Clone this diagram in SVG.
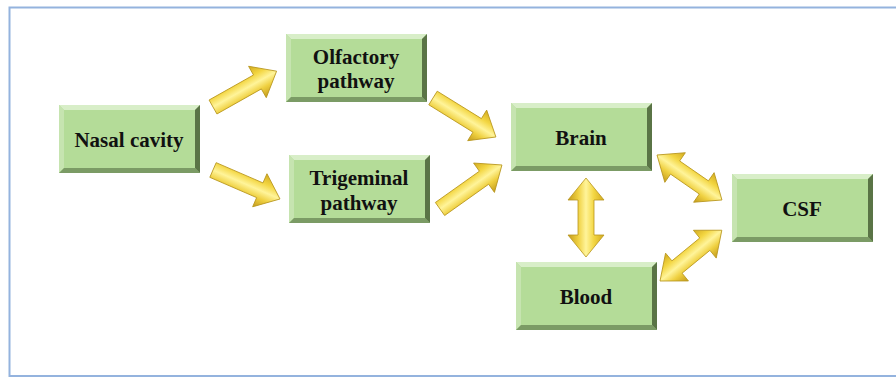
<svg xmlns="http://www.w3.org/2000/svg" xmlns:xlink="http://www.w3.org/1999/xlink" width="896" height="377" viewBox="0 0 896 377">
<style>
.lbl{font-family:"Liberation Serif","Times New Roman",serif;font-weight:bold;font-size:21px;fill:#111;text-anchor:middle}
.face{fill:#b4dc98}
.bt{fill:#d8eec8}
.bl{fill:#c6e4b0}
.bb{fill:#7b9b65}
.br{fill:#5a7446}
.arr{fill:url(#yg);stroke:#b8961e;stroke-width:0.8;stroke-linejoin:miter}
</style>
<defs>
<linearGradient id="yg" x1="0" y1="0" x2="0" y2="1">
<stop offset="0" stop-color="#d2aa1e"/>
<stop offset="0.28" stop-color="#f3d642"/>
<stop offset="0.5" stop-color="#fff49a"/>
<stop offset="0.72" stop-color="#efd040"/>
<stop offset="1" stop-color="#c39a1c"/>
</linearGradient>
<g id="bx">
<rect class="face" x="0" y="0" width="141" height="68"/>
<polygon class="bt" points="0,0 141,0 136,5 5,5"/>
<polygon class="bl" points="0,0 5,5 5,63 0,68"/>
<polygon class="bb" points="0,68 5,63 136,63 141,68"/>
<polygon class="br" points="141,0 141,68 136,63 136,5"/>
</g>
</defs>
<rect x="9.5" y="7.5" width="900" height="368.5" fill="#ffffff" stroke="#94b3de" stroke-width="2"/>
<g id="connectors">
<polygon class="arr" transform="translate(213,107) rotate(-29.4)" points="0,-8 51,-8 51,-18 73,0 51,18 51,8 0,8"/>
<polygon class="arr" transform="translate(213,170) rotate(23.4)" points="0,-8 51,-8 51,-18 73,0 51,18 51,8 0,8"/>
<polygon class="arr" transform="translate(433,98) rotate(31.8)" points="0,-8 52,-8 52,-18 74,0 52,18 52,8 0,8"/>
<polygon class="arr" transform="translate(440,209) rotate(-35.4)" points="0,-8 54,-8 54,-18 76,0 54,18 54,8 0,8"/>
<polygon class="arr" transform="translate(657,155) rotate(34.7)" points="0,0 22,-18 22,-8 57,-8 57,-18 79,0 57,18 57,8 22,8 22,18"/>
<polygon class="arr" transform="translate(586,178) rotate(90)" points="0,0 22,-18 22,-8 57,-8 57,-18 79,0 57,18 57,8 22,8 22,18"/>
<polygon class="arr" transform="translate(660,281) rotate(-39.4)" points="0,0 22,-18 22,-8 58,-8 58,-18 80,0 58,18 58,8 22,8 22,18"/>
</g>
<g id="nasal-cavity">
<use xlink:href="#bx" x="59" y="105"/>
<text class="lbl" x="129" y="147">Nasal cavity</text>
</g>
<g id="olfactory-pathway">
<use xlink:href="#bx" x="286" y="34"/>
<text class="lbl" x="356" y="64">Olfactory</text>
<text class="lbl" x="356" y="88">pathway</text>
</g>
<g id="trigeminal-pathway">
<use xlink:href="#bx" x="289" y="155"/>
<text class="lbl" x="359" y="185">Trigeminal</text>
<text class="lbl" x="359" y="210">pathway</text>
</g>
<g id="brain">
<use xlink:href="#bx" x="511" y="103"/>
<text class="lbl" x="581" y="145">Brain</text>
</g>
<g id="csf">
<use xlink:href="#bx" x="732" y="174"/>
<text class="lbl" x="802" y="216">CSF</text>
</g>
<g id="blood">
<use xlink:href="#bx" x="516" y="262"/>
<text class="lbl" x="586" y="304">Blood</text>
</g>
</svg>
